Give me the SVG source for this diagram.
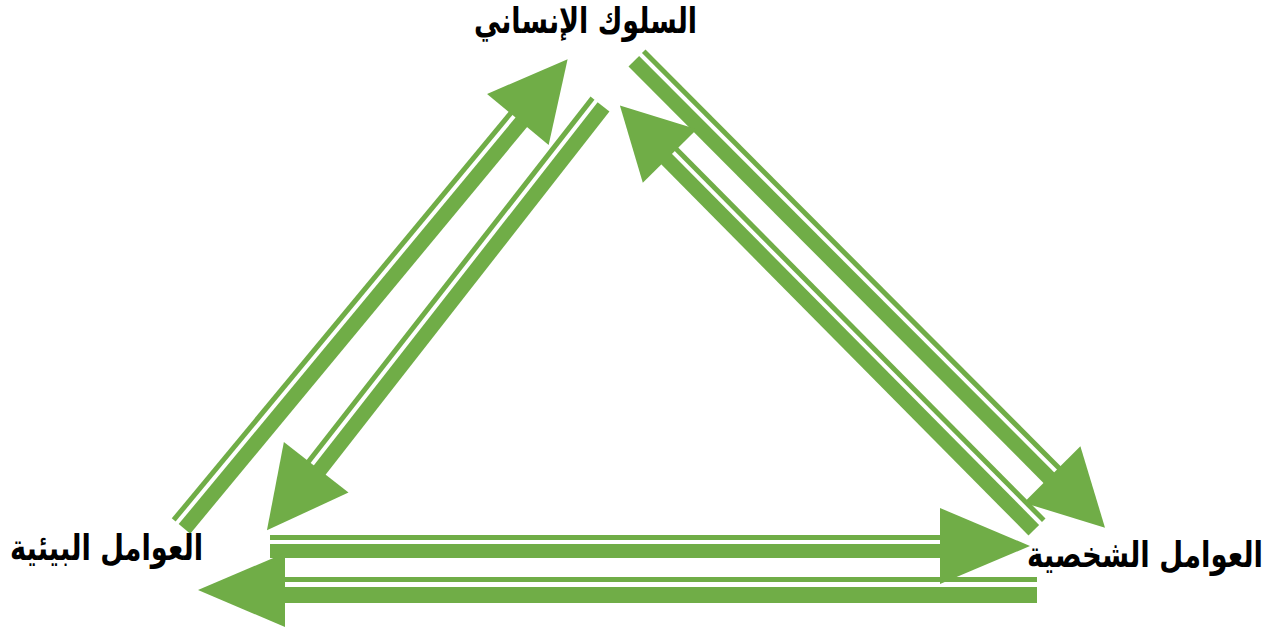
<svg xmlns="http://www.w3.org/2000/svg" width="1279" height="633" viewBox="0 0 1279 633">
<style>
.g{fill:#70AD47}
.lbl{font-family:"DejaVu Sans","Liberation Sans",sans-serif;font-weight:bold;font-size:36px;fill:#000;text-anchor:middle}
</style>
<rect width="1279" height="633" fill="#fff"/>
<g id="connectors">
  <g id="arrowA" class="g" transform="translate(181,526) rotate(-50.36)">
    <rect x="0" y="-12" width="530" height="5"/>
    <rect x="0" y="-3" width="530" height="15"/>
    <polygon points="528,-40 606,0 528,40"/>
  </g>
  <g id="arrowB" class="g" transform="translate(600,104) rotate(128) scale(1,-1)">
    <rect x="0" y="-12" width="464" height="5"/>
    <rect x="0" y="-3" width="464" height="15"/>
    <polygon points="461,-41 541,0 461,41"/>
  </g>
  <g id="arrowC" class="g" transform="translate(637,58) rotate(45.1)">
    <rect x="0" y="-12" width="590" height="5"/>
    <rect x="0" y="-3" width="590" height="15"/>
    <polygon points="588,-40 663,0 588,40"/>
  </g>
  <g id="arrowD" class="g" transform="translate(1037,527) rotate(-134.7) scale(1,-1)">
    <rect x="0" y="-12" width="525" height="5"/>
    <rect x="0" y="-3" width="525" height="15"/>
    <polygon points="522,-38 593,0 522,38"/>
  </g>
  <g id="arrowE" class="g" transform="translate(270,546)">
    <rect x="0" y="-11" width="672" height="5"/>
    <rect x="0" y="-2" width="672" height="14"/>
    <polygon points="670,-38 760,0 670,38"/>
  </g>
  <g id="arrowF" class="g" transform="translate(1037,590) rotate(180) scale(1,-1)">
    <rect x="0" y="-13" width="754" height="5"/>
    <rect x="0" y="-3" width="754" height="16"/>
    <polygon points="752,-37 839,0 752,37"/>
  </g>
</g>
<g id="node-behaviour"><text class="lbl" x="585.5" y="33" textLength="223" lengthAdjust="spacingAndGlyphs">السلوك الإنساني</text></g>
<g id="node-environmental"><text class="lbl" x="106.5" y="560" textLength="193" lengthAdjust="spacingAndGlyphs">العوامل البيئية</text></g>
<g id="node-personal"><text class="lbl" x="1145" y="567" textLength="236" lengthAdjust="spacingAndGlyphs">العوامل الشخصية</text></g>
</svg>
